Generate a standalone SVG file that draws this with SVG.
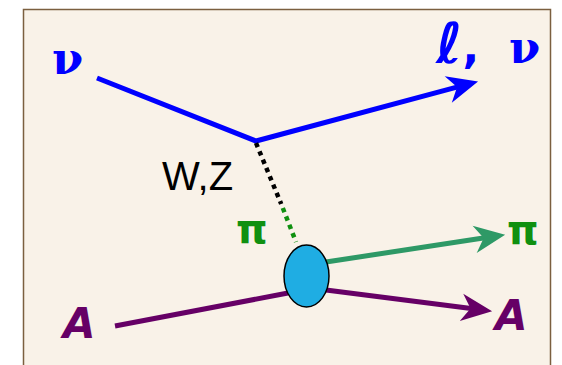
<svg xmlns="http://www.w3.org/2000/svg" width="562" height="365" viewBox="0 0 562 365">
<style>
.lbl{font-family:"DejaVu Serif",serif;font-weight:bold;}
.sans{font-family:"DejaVu Sans",sans-serif;font-weight:bold;}
.blue{fill:#0000ff;}
.green{fill:#109010;}
.purple{fill:#660066;}
.ln{fill:none;stroke-width:5;}
.dot{stroke-width:4.5;stroke-dasharray:4.5 4.5;}
</style>
<defs>
<marker id="ab" markerUnits="userSpaceOnUse" markerWidth="40" markerHeight="40" viewBox="-15 -15 35 30" refX="0" refY="0" orient="auto" overflow="visible">
<path d="M15,0 L-12,-12 L-4,0 L-12,12 Z" fill="#0000ff"/>
</marker>
<marker id="ag" markerUnits="userSpaceOnUse" markerWidth="40" markerHeight="40" viewBox="-15 -15 35 30" refX="0" refY="0" orient="auto" overflow="visible">
<path d="M15,0 L-12,-12 L-4,0 L-12,12 Z" fill="#2e9966"/>
</marker>
<marker id="ap" markerUnits="userSpaceOnUse" markerWidth="40" markerHeight="40" viewBox="-15 -15 35 30" refX="0" refY="0" orient="auto" overflow="visible">
<path d="M15,0 L-12,-12 L-4,0 L-12,12 Z" fill="#660066"/>
</marker>
</defs>
<rect x="23.5" y="9.5" width="527" height="370" fill="#f9f2e8" stroke="#7b5f3f" stroke-width="1.5"/>
<g id="connectors">
<polyline class="ln" points="97,78 256,141 461.5,85.9" stroke="#0000ff" marker-end="url(#ab)"/>
<line class="dot" x1="256" y1="143" x2="281.2" y2="204" stroke="#000"/>
<line class="dot" x1="282.8" y1="208" x2="296" y2="242" stroke="#109010"/>
<line class="ln" x1="326" y1="262" x2="488.2" y2="237.3" stroke="#2e9966" marker-end="url(#ag)"/>
<line class="ln" x1="115" y1="326" x2="288" y2="293" stroke="#660066"/>
<line class="ln" x1="326" y1="290" x2="475.1" y2="309.1" stroke="#660066" marker-end="url(#ap)"/>
</g>
<g id="vertex">
<ellipse cx="306.5" cy="276" rx="22.5" ry="31" fill="#1fade3" stroke="#000" stroke-width="1.5"/>
</g>
<g id="labels">
<text class="lbl blue" x="52" y="74" font-size="45">ν</text>
<text class="sans blue" x="436" y="63" font-size="56">ℓ<tspan font-size="44">,</tspan></text>
<text class="lbl blue" x="509" y="63" font-size="45">ν</text>
<text x="162" y="190" font-family="Liberation Sans,sans-serif" font-size="40" fill="#000">W,Z</text>
<text class="sans green" x="236" y="243" font-size="40">π</text>
<text class="sans green" x="507" y="244" font-size="40">π</text>
<text class="sans purple" x="63" y="338" font-size="42" font-style="italic">A</text>
<text class="sans purple" x="495" y="330" font-size="42" font-style="italic">A</text>
</g>
</svg>
